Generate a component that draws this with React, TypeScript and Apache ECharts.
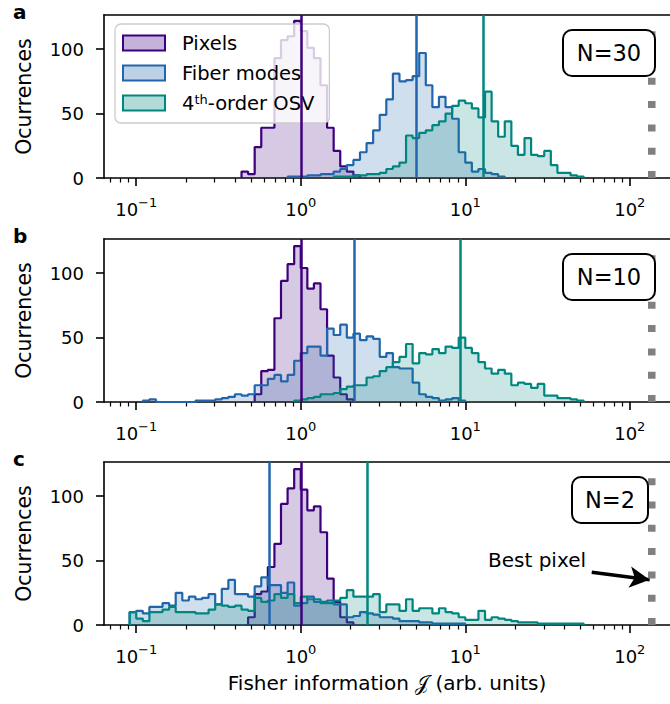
import React, { useEffect, useRef } from "react";
import * as echarts from "echarts";

// ---------- data ----------
const BIN_LOG_START = -1.04; // log10 of first bin edge
const BIN_LOG_WIDTH = 0.04; // bin width in decades
const X_MIN = 0.0637;
const X_MAX = 175.5;
const Y_MAX = 126.5;
const Y_INTERVAL = 50;
const X_MAJOR_TICKS = [0.1, 1, 10, 100];
const SERIES_NAMES = ["Pixels", "Fiber modes", "4th-order OSV"];
const PANEL_LETTERS = ["a", "b", "c"];
const PANEL_N_LABELS = ["N=30", "N=10", "N=2"];
const BEST_PIXEL = 136;

// panel a (N=30)
const pixelsAStart = 17;
const pixelsA = [5, 3, 24, 39, 39, 93, 107, 110, 122, 114, 101, 93, 72, 39, 21, 9, 5, 2];
const fiberAStart = 24;
const fiberA = [1, 1, 1, 2, 2, 3, 3, 5, 7, 10, 14, 20, 27, 37, 49, 61, 81, 75, 76, 79, 97, 72, 55, 63, 55, 46, 20, 12, 5, 7, 4, 3, 1];
const osvAStart = 31;
const osvA = [1, 1, 1, 2, 2, 3, 3, 4, 7, 9, 12, 33, 31, 35, 37, 41, 44, 50, 56, 60, 58, 54, 47, 67, 44, 32, 44, 25, 18, 31, 18, 17, 21, 10, 4, 4, 2, 1];

// panel b (N=10)
const pixelsBStart = 19;
const pixelsB = [6, 24, 25, 65, 94, 107, 121, 104, 88, 92, 72, 36, 19, 6, 2];
const fiberBStart = 2;
const fiberB = [1, 2, 0, 0, 0, 0, 0, 0, 1, 1, 1, 2, 3, 4, 6, 5, 6, 13, 13, 18, 21, 16, 21, 32, 38, 43, 43, 36, 57, 52, 60, 50, 53, 48, 51, 49, 35, 38, 27, 26, 26, 15, 6, 4, 3, 1, 2, 3, 1];
const osvBStart = 25;
const osvB = [1, 2, 3, 4, 6, 6, 7, 10, 12, 13, 13, 19, 20, 24, 27, 31, 35, 45, 30, 38, 37, 41, 38, 43, 42, 50, 42, 38, 31, 26, 22, 25, 22, 13, 15, 14, 11, 14, 5, 5, 3, 3, 2, 1];

// panel c (N=2)
const pixelsCStart = 18;
const pixelsC = [6, 24, 26, 45, 63, 94, 106, 121, 105, 89, 92, 72, 36, 18, 6, 2];
const fiberCStart = 0;
const fiberC = [10, 11, 9, 14, 14, 17, 15, 25, 19, 22, 20, 21, 24, 16, 28, 35, 24, 24, 22, 30, 37, 31, 31, 25, 33, 15, 17, 22, 18, 18, 19, 16, 16, 6, 7, 10, 9, 8, 6, 6, 5, 3, 3, 3, 2, 2, 1, 1, 1, 1, 1];
const osvCStart = 0;
const osvC = [10, 5, 3, 10, 10, 12, 14, 10, 10, 10, 9, 9, 12, 16, 15, 14, 15, 12, 11, 21, 18, 19, 24, 21, 24, 17, 22, 20, 20, 17, 17, 19, 21, 27, 22, 22, 22, 24, 10, 16, 16, 11, 20, 11, 13, 13, 9, 13, 10, 9, 6, 4, 4, 11, 4, 6, 5, 4, 3, 2, 2, 2, 1, 1, 1, 1, 1, 1, 1];

// means (vertical lines)
const meansA = [1.0, 5.07, 12.9];
const meansB = [1.0, 2.12, 9.3];
const meansC = [1.0, 0.635, 2.55];

// annotation arrow (data coords) in panel c
const ARROW_FROM = [58.7, 40.9];
const ARROW_TO = [132, 35.2];

const PANELS = [
  { starts: [pixelsAStart, fiberAStart, osvAStart], counts: [pixelsA, fiberA, osvA], means: meansA },
  { starts: [pixelsBStart, fiberBStart, osvBStart], counts: [pixelsB, fiberB, osvB], means: meansB },
  { starts: [pixelsCStart, fiberCStart, osvCStart], counts: [pixelsC, fiberC, osvC], means: meansC },
];

// ---------- styling ----------
const COLORS = ["#3f007d", "#2166ac", "#01867f"];
const FILLS = ["rgba(63,0,125,0.3)", "rgba(33,102,172,0.3)", "rgba(1,134,127,0.3)"];
const FONT = "DejaVu Sans";
const GRID_TOPS = [15, 239, 462];
const GRID_H = 163;
const GRID_LEFT = 104;

function edge(i: number) {
  return Math.pow(10, BIN_LOG_START + BIN_LOG_WIDTH * i);
}

function histPoints(start: number, counts: number[]) {
  const pts: number[][] = [[edge(start), 0]];
  counts.forEach((c, k) => pts.push([edge(start + k), c]));
  const n = counts.length;
  pts.push([edge(start + n), counts[n - 1]]);
  pts.push([edge(start + n), 0]);
  return pts;
}

function minorTicks() {
  const out: number[] = [];
  [0.01, 0.1, 1, 10, 100].forEach((d) => {
    for (let m = 2; m <= 9; m++) {
      const v = d * m;
      if (v > X_MIN && v < X_MAX) out.push(+v.toPrecision(6));
    }
  });
  return out;
}

function supLabel(v: number) {
  const e = Math.round(Math.log10(v));
  const s = e < 0 ? "\u2212" + Math.abs(e) : String(e);
  return "{b|10}{s|" + s + "}";
}

export default function App() {
  const ref = useRef<HTMLDivElement>(null);
  useEffect(() => {
    if (!ref.current) return;
    const chart = echarts.init(ref.current, null, { renderer: "svg" });
    const grids: any[] = [];
    const xAxes: any[] = [];
    const yAxes: any[] = [];
    const series: any[] = [];
    const graphics: any[] = [];
    const minors = minorTicks();

    PANELS.forEach((panel, p) => {
      grids.push({ left: GRID_LEFT, right: 0, top: GRID_TOPS[p], height: GRID_H });
      xAxes.push({
        type: "log",
        gridIndex: p,
        min: X_MIN,
        max: X_MAX,
        position: "bottom",
        axisLine: { show: true, onZero: false, lineStyle: { color: "#000", width: 1.6 } },
        axisTick: { show: true, customValues: X_MAJOR_TICKS, length: 8, lineStyle: { color: "#000", width: 1.6 } },
        axisLabel: {
          show: true,
          customValues: X_MAJOR_TICKS,
          margin: 18,
          formatter: supLabel,
          rich: {
            b: { fontFamily: FONT, fontSize: 18, color: "#000", verticalAlign: "bottom", lineHeight: 22 },
            s: { fontFamily: FONT, fontSize: 13, color: "#000", verticalAlign: "top", lineHeight: 13 },
          },
        },
        splitLine: { show: false },
        name: p === 2 ? "Fisher information \uD835\uDCA5 (arb. units)" : "",
        nameLocation: "middle",
        nameGap: 48,
        nameTextStyle: { fontFamily: FONT, fontSize: 20, color: "#000" },
      });
      xAxes.push({
        type: "log",
        gridIndex: p,
        min: X_MIN,
        max: X_MAX,
        position: "bottom",
        axisLine: { show: false, onZero: false },
        axisTick: { show: true, customValues: minors, length: 4.5, lineStyle: { color: "#000", width: 1.2 } },
        axisLabel: { show: false },
        splitLine: { show: false },
      });
      xAxes.push({
        type: "log",
        gridIndex: p,
        min: X_MIN,
        max: X_MAX,
        position: "top",
        axisLine: { show: true, onZero: false, lineStyle: { color: "#000", width: 1.6 } },
        axisTick: { show: false },
        axisLabel: { show: false },
        splitLine: { show: false },
      });
      yAxes.push({
        type: "value",
        gridIndex: p,
        min: 0,
        max: Y_MAX,
        interval: Y_INTERVAL,
        axisLine: { show: true, onZero: false, lineStyle: { color: "#000", width: 1.6 } },
        axisTick: { show: true, length: 8, lineStyle: { color: "#000", width: 1.6 } },
        axisLabel: { fontFamily: FONT, fontSize: 18, color: "#000", margin: 20, showMaxLabel: false },
        splitLine: { show: false },
        name: "Ocurrences",
        nameLocation: "middle",
        nameGap: 70,
        nameRotate: 90,
        nameTextStyle: { fontFamily: FONT, fontSize: 20.5, color: "#000" },
      });

      SERIES_NAMES.forEach((name, k) => {
        series.push({
          type: "line",
          name,
          xAxisIndex: p * 3,
          yAxisIndex: p,
          data: histPoints(panel.starts[k], panel.counts[k]),
          step: "end",
          showSymbol: false,
          symbol: "none",
          lineStyle: { color: COLORS[k], width: 2.2 },
          itemStyle: { color: COLORS[k] },
          areaStyle: { color: FILLS[k] },
          silent: true,
          z: 2 + k,
          markLine: {
            silent: true,
            symbol: ["none", "none"],
            label: { show: false },
            lineStyle: { color: COLORS[k], width: 2.5, type: "solid" },
            data: [{ xAxis: panel.means[k] }],
          },
        });
      });

      const gray: any = {
        type: "line",
        name: "best",
        xAxisIndex: p * 3,
        yAxisIndex: p,
        data: [
          [BEST_PIXEL, 0],
          [BEST_PIXEL, Y_MAX],
        ],
        showSymbol: false,
        symbol: "none",
        silent: true,
        lineStyle: { color: "#808080", width: 7.5, type: [7, 16.3], cap: "butt" },
        z: 6,
      };
      if (p === 2) {
        gray.markLine = {
          silent: true,
          symbol: ["none", "arrow"],
          symbolSize: [16, 20],
          label: { show: false },
          lineStyle: { color: "#000", width: 3.5, type: "solid" },
          data: [[{ coord: ARROW_FROM }, { coord: ARROW_TO }]],
        };
      }
      series.push(gray);

      graphics.push({
        type: "text",
        left: 13,
        top: GRID_TOPS[p] - 13,
        style: { text: PANEL_LETTERS[p], fontFamily: FONT, fontSize: 20, fontWeight: "bold", fill: "#000" },
        z: 100,
      });
    });

    const boxes = [
      { x: 563, y: 30, w: 92, h: 46 },
      { x: 563, y: 254, w: 92, h: 46 },
      { x: 572, y: 477, w: 76, h: 46 },
    ];
    boxes.forEach((b, i) => {
      graphics.push({
        type: "rect",
        shape: { x: b.x, y: b.y, width: b.w, height: b.h, r: 9 },
        style: { fill: "#fff", stroke: "#000", lineWidth: 2 },
        z: 100,
      });
      graphics.push({
        type: "text",
        x: b.x + b.w / 2,
        y: b.y + b.h / 2,
        style: {
          text: PANEL_N_LABELS[i],
          fontFamily: FONT,
          fontSize: 22.5,
          fill: "#000",
          textAlign: "center",
          textVerticalAlign: "middle",
        },
        z: 101,
      });
    });
    graphics.push({
      type: "text",
      x: 537,
      y: 560,
      style: {
        text: "Best pixel",
        fontFamily: FONT,
        fontSize: 20,
        fill: "#000",
        textAlign: "center",
        textVerticalAlign: "middle",
      },
      z: 101,
    });

    chart.setOption({
      animation: false,
      grid: grids,
      xAxis: xAxes,
      yAxis: yAxes,
      series,
      graphic: graphics,
      legend: {
        orient: "vertical",
        left: 115,
        top: 24,
        padding: [9, 15, 10, 7],
        itemWidth: 42,
        itemHeight: 15,
        itemGap: 10,
        icon: "rect",
        backgroundColor: "rgba(255,255,255,0.8)",
        borderColor: "#cccccc",
        borderWidth: 1.3,
        borderRadius: 6,
        selectedMode: false,
        data: SERIES_NAMES.map((n, k) => ({
          name: n,
          icon: "rect",
          itemStyle: { color: FILLS[k], borderColor: COLORS[k], borderWidth: 2 },
        })),
        formatter: (name: string) => (name === "4th-order OSV" ? "4{sup|th}-order OSV" : name),
        textStyle: {
          fontFamily: FONT,
          fontSize: 19.5,
          color: "#000",
          padding: [0, 0, 0, 12],
          rich: {
            sup: { fontFamily: FONT, fontSize: 13, color: "#000", verticalAlign: "top", lineHeight: 13 },
          },
        },
      },
    });
    return () => chart.dispose();
  }, []);
  return (
    <div
      ref={ref}
      style={{ position: "fixed", left: 0, top: 0, width: 670, height: 704, background: "#fff" }}
    />
  );
}
